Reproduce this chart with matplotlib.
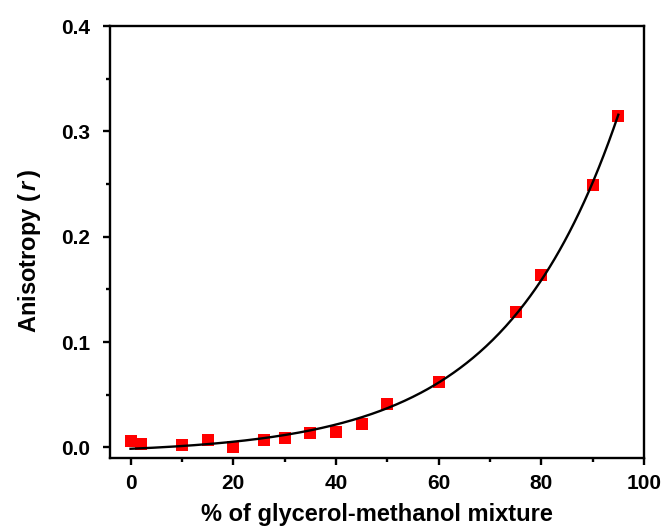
import numpy as np
import matplotlib
matplotlib.use('Agg')
from matplotlib import pyplot as plt
from matplotlib.ticker import MultipleLocator

plt.rcParams['font.family'] = ['Liberation Sans', 'DejaVu Sans']
plt.rcParams['font.weight'] = 'bold'
plt.rcParams['mathtext.fontset'] = 'custom'
plt.rcParams['mathtext.it'] = 'Liberation Sans:italic:bold'
plt.rcParams['mathtext.rm'] = 'Liberation Sans:bold'

# glycerol content (%) and measured anisotropy
glycerol = [0, 2, 10, 15, 20, 26, 30, 35, 40, 45, 50, 60, 75, 80, 90, 95]
anisotropy = [0.0065, 0.0030, 0.0022, 0.0074, 0.0008, 0.0074, 0.0087, 0.0133,
              0.0145, 0.0225, 0.0410, 0.0622, 0.1290, 0.1635, 0.2490, 0.3150]

x = np.array(glycerol, dtype=float)
y = np.array(anisotropy)

# exponential growth fit y = y0 + A*exp(x/t), t scanned, y0/A by least squares
best = None
for t in np.linspace(10, 40, 601):
    M = np.column_stack([np.ones_like(x), np.exp(x / t)])
    coef, res, _, _ = np.linalg.lstsq(M, y, rcond=None)
    err = np.sum((M @ coef - y) ** 2)
    if best is None or err < best[0]:
        best = (err, t, coef)
_, t_fit, (y0_fit, a_fit) = best
xf = np.linspace(x.min(), x.max(), 300)
yf = y0_fit + a_fit * np.exp(xf / t_fit)

fig = plt.figure(figsize=(6.65, 5.29), dpi=100)
ax = fig.add_axes([0.1654, 0.1342, 0.803, 0.8166])

ax.plot(x, y, 's', color='#ff0000', markersize=8.8, markeredgewidth=0, zorder=2)
ax.plot(xf, yf, '-', color='black', linewidth=1.7, zorder=3)

ax.set_xlim(-4, 100)
ax.set_ylim(-0.01, 0.4)
ax.xaxis.set_major_locator(MultipleLocator(20))
ax.xaxis.set_minor_locator(MultipleLocator(10))
ax.yaxis.set_major_locator(MultipleLocator(0.1))
ax.yaxis.set_minor_locator(MultipleLocator(0.05))
ax.yaxis.set_major_formatter(plt.FuncFormatter(lambda v, p: '%.1f' % v))

for s in ax.spines.values():
    s.set_linewidth(1.7)
ax.tick_params(which='major', direction='out', length=5, width=1.7,
               labelsize=15, pad=9)
ax.tick_params(which='minor', direction='out', length=3, width=1.7)
ax.tick_params(axis='x', which='major', pad=6.5)

ax.set_xlabel('% of glycerol-methanol mixture', fontsize=17, fontweight='bold',
              labelpad=7)
ax.set_ylabel(r'Anisotropy ($\,r\,$)', fontsize=17, fontweight='bold')
ax.yaxis.set_label_coords(-0.126, 0.479)

plt.savefig('out.png', dpi=100)
